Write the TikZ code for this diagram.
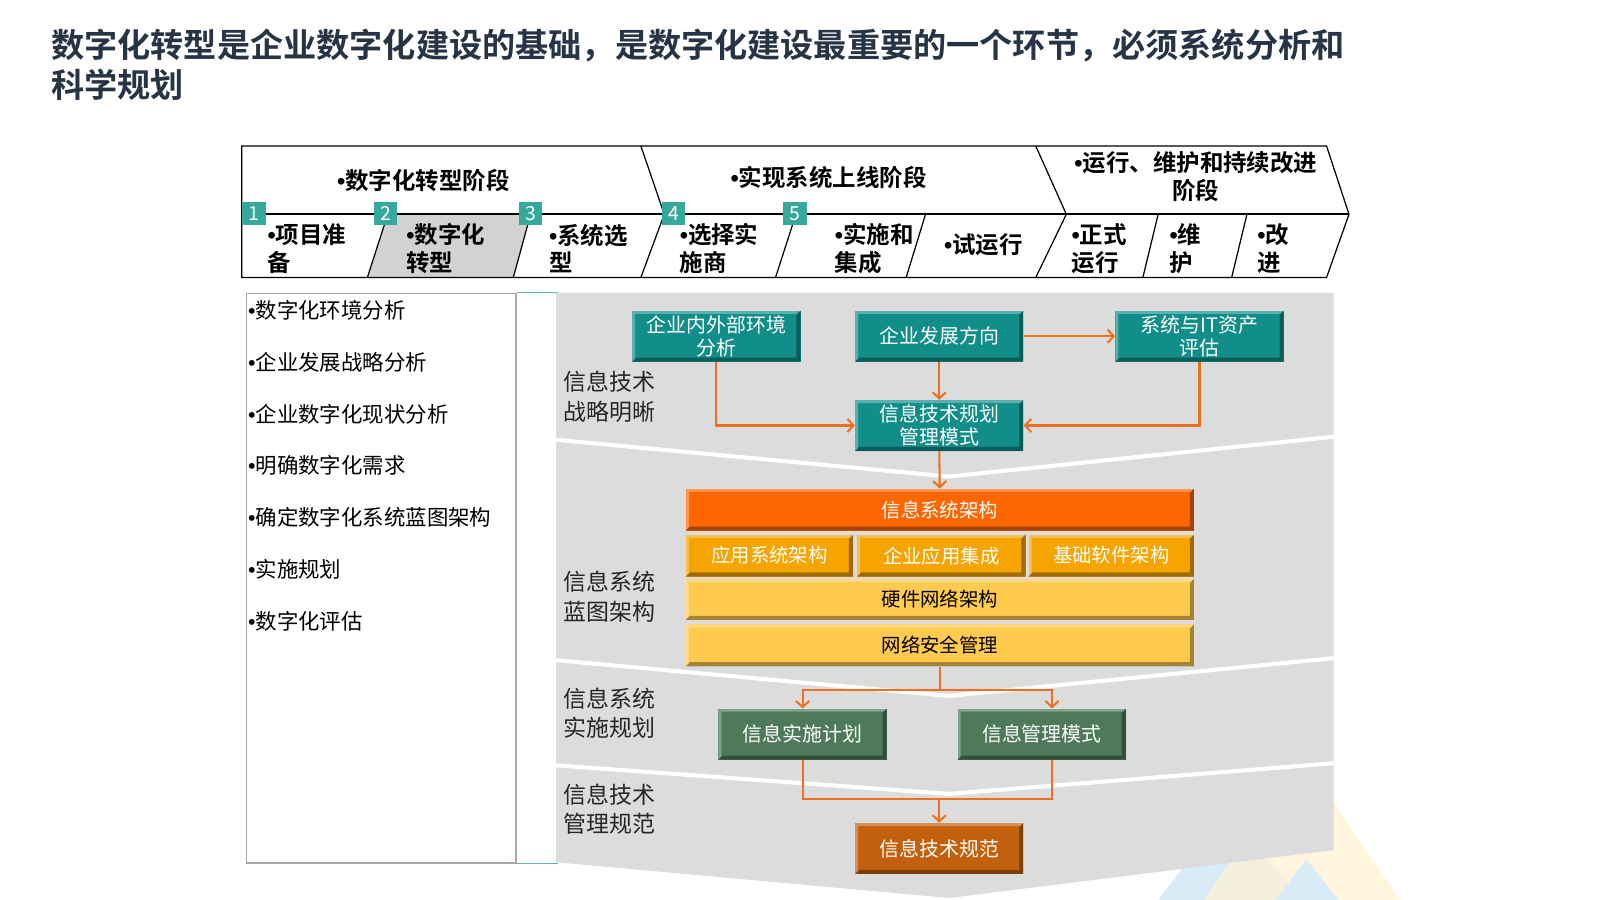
\documentclass[tikz,border=0pt]{standalone}
\usepackage{fontspec}
\setmainfont{Noto Sans CJK SC}[BoldFont={Noto Sans CJK SC Bold}]
\newfontfamily\dotfont{Liberation Sans}
\newcommand{\bul}{{\dotfont\char"2022}}
\usetikzlibrary{arrows.meta}
\definecolor{Navy}{HTML}{263445}
\definecolor{Badge}{HTML}{36A89C}
\definecolor{TealBox}{HTML}{128E8A}
\definecolor{GreenBox}{HTML}{4E7A5A}
\definecolor{Rust}{HTML}{C2600E}
\definecolor{Flame}{HTML}{FF6600}
\definecolor{Amber}{HTML}{F6A400}
\definecolor{Butter}{HTML}{FFCA4D}
\definecolor{Wire}{HTML}{EE6F1F}
\definecolor{Panel}{HTML}{DCDCDC}
\definecolor{Shade}{HTML}{D2D2D2}
\definecolor{Frame}{HTML}{A8A8A8}
\definecolor{Rule}{HTML}{5DB8B0}
\definecolor{PaleSky}{HTML}{D8EBF7}
\definecolor{PaleSun}{HTML}{FFF3D2}
\tikzset{
  bevel/.style={path picture={
    \coordinate (sw) at (path picture bounding box.south west);
    \coordinate (nw) at (path picture bounding box.north west);
    \coordinate (ne) at (path picture bounding box.north east);
    \coordinate (se) at (path picture bounding box.south east);
    \fill[white,opacity=.3] (sw) -- (nw) -- (ne) -- ([shift={(-3pt,-3pt)}]ne) -- ([shift={(3pt,-3pt)}]nw) -- ([shift={(3pt,3pt)}]sw) -- cycle;
    \fill[black,opacity=.35] (sw) -- (se) -- (ne) -- ([shift={(-4pt,-4pt)}]ne) -- ([shift={(-4pt,4pt)}]se) -- ([shift={(4pt,4pt)}]sw) -- cycle;
  }},
  tbox/.style={bevel,fill=TealBox,text=white,minimum width=165pt,minimum height=50pt,align=center,inner sep=2pt,font=\fontsize{19.5}{22}\selectfont},
  gbox/.style={tbox,fill=GreenBox},
  bar/.style={bevel,minimum height=41pt,inner sep=0pt,align=center,font=\fontsize{19}{22}\selectfont},
  badge/.style={fill=Badge,text=white,minimum size=23pt,inner sep=0pt,font=\fontsize{19}{19}\selectfont},
  phase/.style={anchor=west,inner sep=0pt,align=left,font=\fontsize{23}{27}\selectfont\bfseries},
  band/.style={anchor=west,inner sep=0pt,align=left,text=black!85,font=\fontsize{22.5}{29}\selectfont},
  flow/.style={-{Straight Barb[length=6pt,width=13pt]},draw=Wire,line width=2pt},
  link/.style={draw=Wire,line width=2pt},
}
\begin{document}
\begin{tikzpicture}[x=1pt,y=-1pt]
  \useasboundingbox (0,0) rectangle (1568,882);
  \fill[white] (0,0) rectangle (1568,882);

  \node[anchor=west,inner sep=0pt,align=left,text=Navy,font=\fontsize{32.5}{39}\selectfont\bfseries] (title) at (50,63.5)
    {数字化转型是企业数字化建设的基础，是数字化建设最重要的一个环节，必须系统分析和\\科学规划};

  % phase ribbon
  \fill[Shade] (380,210) -- (520,210) -- (503,272) -- (360,272) -- cycle;
  \draw[line width=1.2pt] (237,143) -- (1300,143) -- (1322,210) -- (1300,272) -- (237,272) -- cycle;
  \draw[line width=2pt] (237,210) -- (1322,210);
  \draw[line width=1.2pt] (628,143) -- (651,210) -- (628,272);
  \draw[line width=1.2pt] (1015,143) -- (1045,210) -- (1015,272);
  \draw[line width=1.2pt] (380,210) -- (360,272) (520,210) -- (503,272) (780,210) -- (760,272)
    (907,210) -- (888,272) (1135,210) -- (1120,272) (1222,210) -- (1207,272);

  \node[phase,anchor=center] (ph1) at (415,177) {\bul{}数字化转型阶段};
  \node[phase,anchor=center] (ph2) at (812,174) {\bul{}实现系统上线阶段};
  \node[phase,anchor=center,align=center] (ph3) at (1172,173) {\bul{}运行、维护和持续改进\\阶段};

  \node[phase] (s1) at (262,243.5) {\bul{}项目准\\备};
  \node[phase] (s2) at (398,243.5) {\bul{}数字化\\转型};
  \node[phase] (s3) at (538,243.5) {\bul{}系统选\\型};
  \node[phase] (s4) at (666,243.5) {\bul{}选择实\\施商};
  \node[phase] (s5) at (818,243.5) {\bul{}实施和\\集成};
  \node[phase] (s6) at (925,240) {\bul{}试运行};
  \node[phase] (s7) at (1050,243.5) {\bul{}正式\\运行};
  \node[phase] (s8) at (1146,243.5) {\bul{}维\\护};
  \node[phase] (s9) at (1232,243.5) {\bul{}改\\进};

  \node[badge] (b1) at (249,209) {1};
  \node[badge] (b2) at (378,209) {2};
  \node[badge] (b3) at (520,209) {3};
  \node[badge] (b4) at (660,209) {4};
  \node[badge] (b5) at (779,209) {5};

  % task list
  \node[draw=Frame,line width=1.5pt,anchor=north west,minimum width=264pt,minimum height=558pt,inner sep=0pt] (tasks) at (241,287) {};
  \node[anchor=north west,inner sep=0pt,align=left,font=\fontsize{21}{50.8}\selectfont] (items) at (243,294)
    {\bul{}数字化环境分析\\\bul{}企业发展战略分析\\\bul{}企业数字化现状分析\\\bul{}明确数字化需求\\\bul{}确定数字化系统蓝图架构\\\bul{}实施规划\\\bul{}数字化评估};
  \draw[Rule,line width=.8pt] (tasks.north east) -- ++(40,0);
  \draw[Rule,line width=.8pt] (tasks.south east) -- ++(40,0);

  % backdrop
  \fill[PaleSky] (1135,882) -- (1205,790) -- (1275,882) -- cycle;
  \fill[PaleSun,opacity=.75] (1180,882) -- (1276,740) -- (1372,882) -- cycle;
  \fill[PaleSky] (1250,882) -- (1280,842) -- (1312,882) -- cycle;
  \fill[Panel] (545,287) -- (1307,287) -- (1307,833) -- (930,880) -- (545,845) -- cycle;
  \draw[white,line width=4pt] (545,431) -- (930,467) -- (1307,428);
  \draw[white,line width=4pt] (545,647) -- (930,682) -- (1307,645);
  \draw[white,line width=4pt] (545,750) -- (930,778) -- (1307,748);

  \node[band] (l1) at (552,389) {信息技术\\战略明晰};
  \node[band] (l2) at (552,585) {信息系统\\蓝图架构};
  \node[band] (l3) at (552,699) {信息系统\\实施规划};
  \node[band] (l4) at (552,793) {信息技术\\管理规范};

  % strategy
  \node[tbox] (env) at (702,329.5) {企业内外部环境\\分析};
  \node[tbox] (dev) at (920.5,329.5) {企业发展方向};
  \node[tbox] (asset) at (1175.5,329.5) {系统与IT资产\\评估};
  \node[tbox] (plan) at (920.5,417) {信息技术规划\\管理模式};
  \draw[flow] (env.south) |- (plan.west);
  \draw[flow] (dev.south) -- (plan.north);
  \draw[flow] (dev.east) -- (asset.west);
  \draw[flow] (asset.south) |- (plan.east);

  % blueprint
  \node[bar,fill=Flame,text=white,minimum width=498pt] (isarch) at (921,499.5) {信息系统架构};
  \node[bar,fill=Amber,text=white,minimum width=164pt] (app) at (754,544.5) {应用系统架构};
  \node[bar,fill=Amber,text=white,minimum width=165pt] (eai) at (922.5,544.5) {企业应用集成};
  \node[bar,fill=Amber,text=white,minimum width=162pt] (base) at (1089,544.5) {基础软件架构};
  \node[bar,fill=Butter,minimum height=40pt,minimum width=498pt] (hw) at (921,587.5) {硬件网络架构};
  \node[bar,fill=Butter,minimum width=498pt] (sec) at (921,632.5) {网络安全管理};
  \draw[flow] (plan.south) -- (isarch.north);

  % implementation
  \node[gbox] (impl) at (786.5,719.5) {信息实施计划};
  \node[gbox] (mgmt) at (1021,719.5) {信息管理模式};
  \node[tbox,fill=Rust] (norm) at (920.5,831.5) {信息技术规范};
  \draw[link] (sec.south) -- ++(0,23) coordinate (fork);
  \draw[flow] (fork) -| (impl.north);
  \draw[flow] (fork) -| ([xshift=10pt]mgmt.north);
  \coordinate (merge) at (norm.north |- 0,783);
  \draw[link] (impl.south) |- (merge);
  \draw[link] ([xshift=10pt]mgmt.south) |- (merge);
  \draw[flow] (merge) -- (norm.north);
\end{tikzpicture}
\end{document}
